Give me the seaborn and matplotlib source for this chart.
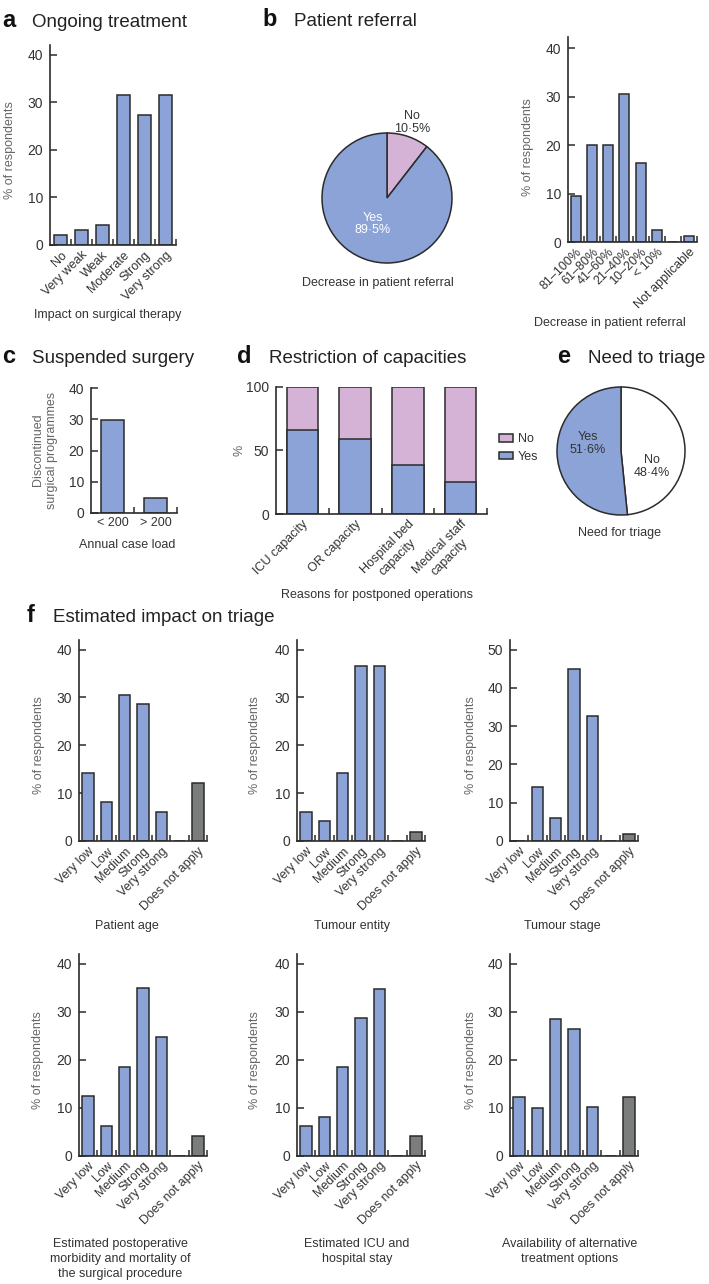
import numpy as np
import pandas as pd
import matplotlib
matplotlib.use("Agg")
import matplotlib.pyplot as plt
import seaborn as sns
from matplotlib.patches import Patch

sns.set_theme(style="ticks")
plt.rcParams['font.family'] = ['Liberation Sans', 'DejaVu Sans']
plt.rcParams['axes.edgecolor'] = '#2b2b2b'
plt.rcParams['axes.linewidth'] = 1.2

BLUE = '#8ba3d6'
PINK = '#d5b3d6'
GRAY = '#7b7d7d'
EDGE = '#2b2b2b'
TXT = '#333333'
LAB = '#666666'

# ---- data ----
a_cats = ["No", "Very weak", "Weak", "Moderate", "Strong", "Very strong"]
a_vals = [2.1, 3.2, 4.1, 31.6, 27.4, 31.6]

b_pie_labels = ["No", "Yes"]
b_pie_vals = [10.5, 89.5]
b_cats = ["81–100%", "61–80%", "41–60%", "21–40%", "10–20%", "< 10%", "", "Not applicable"]
b_vals = [9.5, 20.0, 20.0, 30.5, 16.4, 2.4, 0, 1.2]

c_cats = ["< 200", "> 200"]
c_vals = [29.7, 4.8]

d_cats = ["ICU capacity", "OR capacity", "Hospital bed\ncapacity", "Medical staff\ncapacity"]
d_yes = [65.8, 58.9, 38.7, 25.5]
d_total = [100, 100, 100, 100]

e_pie_labels = ["No", "Yes"]
e_pie_vals = [48.4, 51.6]

f_cats = ["Very low", "Low", "Medium", "Strong", "Very strong", "", "Does not apply"]
f_age = [14.2, 8.1, 30.6, 28.6, 6.1, 0, 12.2]
f_entity = [6.1, 4.1, 14.2, 36.6, 36.6, 0, 1.9]
f_stage = [0, 14.1, 5.9, 44.8, 32.6, 0, 1.8]
f_morb = [12.4, 6.1, 18.5, 34.9, 24.6, 0, 4.1]
f_icu = [6.1, 8.1, 18.5, 28.6, 34.7, 0, 4.0]
f_alt = [12.1, 10.0, 28.4, 26.4, 10.1, 0, 12.1]

W, H = 709, 1284
fig = plt.figure(figsize=(W / 100, H / 100), dpi=100)
FS = 9


def px_axes(left, top, right, bottom):
    return fig.add_axes([left / W, 1 - bottom / H, (right - left) / W, (bottom - top) / H])


def ftext(x, y, s, **kw):
    kw.setdefault('fontsize', FS)
    kw.setdefault('color', TXT)
    fig.text(x / W, 1 - y / H, s, **kw)


def title(xl, xt, y, letter, s):
    ftext(xl, y, letter, fontsize=17, fontweight='bold', color='#111111', va='baseline')
    ftext(xt, y, s, fontsize=13.5, color='#222222', va='baseline')


def style_axes(ax, n, ymax, yticks):
    ax.set_xlim(-0.5, n - 0.5)
    ax.set_ylim(0, ymax)
    ax.set_yticks(yticks)
    ax.set_xticks(np.arange(n) + 0.5, minor=True)
    ax.tick_params(axis='y', direction='in', length=5, width=1.1, pad=5, labelsize=10, colors=EDGE, labelcolor=TXT)
    ax.tick_params(axis='x', which='major', length=0, pad=3, labelsize=FS, labelcolor=TXT)
    ax.tick_params(axis='x', which='minor', direction='in', length=4, width=1.1, colors=EDGE)
    ax.set_xlabel("")
    ax.set_ylabel("")
    sns.despine(ax=ax)


def bar_panel(ax, cats, vals, ymax, yticks, width=0.62, gray_last=False, rot=45):
    df = pd.DataFrame({"cat": cats, "val": vals})
    sns.barplot(data=df, x="cat", y="val", order=cats, color=BLUE, saturation=1,
                edgecolor=EDGE, linewidth=1.1, width=width, ax=ax)
    if gray_last:
        ax.patches[-1].set_facecolor(GRAY)
    style_axes(ax, len(cats), ymax, yticks)
    ax.set_xticks(range(len(cats)))
    if rot:
        ax.set_xticklabels(cats, rotation=rot, ha='right', rotation_mode='anchor')
    else:
        ax.set_xticklabels(cats)


def pie_panel(cx, cy, r, vals, colors):
    ax = px_axes(cx - 1.1 * r, cy - 1.1 * r, cx + 1.1 * r, cy + 1.1 * r)
    ax.pie(vals, colors=colors, startangle=90, counterclock=False,
           wedgeprops=dict(edgecolor=EDGE, linewidth=1.1))
    ax.set_xlim(-1.1, 1.1)
    ax.set_ylim(-1.1, 1.1)
    ax.set_aspect('equal')
    return ax


# ---- a ----
title(2, 32, 27, "a", "Ongoing treatment")
ax = px_axes(50, 45, 176, 245)
bar_panel(ax, a_cats, a_vals, 42, [0, 10, 20, 30, 40])
ftext(10, 150, "% of respondents", rotation=90, ha='center', va='center', color=LAB)
ftext(108, 315, "Impact on surgical therapy", ha='center', va='center')

# ---- b ----
title(262, 294, 26, "b", "Patient referral")
axp = pie_panel(387, 198, 65, b_pie_vals, [PINK, BLUE])
axp.text(0.38, 1.16, "No\n10·5%", ha='center', va='center', fontsize=FS, color=TXT, linespacing=1.1)
axp.text(-0.22, -0.4, "Yes\n89·5%", ha='center', va='center', fontsize=FS, color='white', linespacing=1.1)
ftext(378, 283, "Decrease in patient referral", ha='center', va='center')

ax = px_axes(568, 37, 697, 242)
bar_panel(ax, b_cats, b_vals, 42.3, [0, 10, 20, 30, 40])
ftext(528, 147, "% of respondents", rotation=90, ha='center', va='center', color=LAB)
ftext(610, 323, "Decrease in patient referral", ha='center', va='center')

# ---- c ----
title(2, 32, 363, "c", "Suspended surgery")
ax = px_axes(91, 388, 177, 513)
bar_panel(ax, c_cats, c_vals, 40, [0, 10, 20, 30, 40], width=0.55, rot=0)
ftext(45, 450, "Discontinued\nsurgical programmes", rotation=90, ha='center', va='center',
      color=LAB, linespacing=1.15)
ftext(127, 545, "Annual case load", ha='center', va='center')

# ---- d ----
title(237, 269, 363, "d", "Restriction of capacities")
ax = px_axes(276, 387, 487, 514)
dfd = pd.DataFrame({"cat": d_cats, "total": d_total, "yes": d_yes})
sns.barplot(data=dfd, x="cat", y="total", order=d_cats, color=PINK, saturation=1,
            edgecolor=EDGE, linewidth=1.1, width=0.6, ax=ax)
sns.barplot(data=dfd, x="cat", y="yes", order=d_cats, color=BLUE, saturation=1,
            edgecolor=EDGE, linewidth=1.1, width=0.6, ax=ax)
style_axes(ax, len(d_cats), 100, [0, 50, 100])
ax.set_xticks(range(len(d_cats)))
ax.set_xticklabels(d_cats, rotation=45, ha='right', rotation_mode='anchor', multialignment='center')
ftext(240, 450, "%", rotation=90, ha='center', va='center', color=LAB)
ftext(377, 595, "Reasons for postponed operations", ha='center', va='center')
fig.legend(handles=[Patch(facecolor=PINK, edgecolor=EDGE, linewidth=1.1),
                    Patch(facecolor=BLUE, edgecolor=EDGE, linewidth=1.1)],
           labels=["No", "Yes"], loc='upper left', bbox_to_anchor=(488 / W, 1 - 422 / H),
           frameon=False, handlelength=1.1, handleheight=0.6, labelspacing=0.45,
           handletextpad=0.4, fontsize=FS, labelcolor=TXT)

# ---- e ----
title(557, 588, 363, "e", "Need to triage")
axp = pie_panel(621, 451, 64, e_pie_vals, ['white', BLUE])
axp.text(-0.52, 0.12, "Yes\n51·6%", ha='center', va='center', fontsize=FS, color=TXT, linespacing=1.1)
axp.text(0.48, -0.24, "No\n48·4%", ha='center', va='center', fontsize=FS, color=TXT, linespacing=1.1)
ftext(620, 533, "Need for triage", ha='center', va='center')

# ---- f ----
title(27, 53, 622, "f", "Estimated impact on triage")
f_panels = [
    (f_age, 79, 207, 640, 841, 42, [0, 10, 20, 30, 40], 39, "Patient age", 127),
    (f_entity, 297, 425, 640, 841, 42, [0, 10, 20, 30, 40], 255, "Tumour entity", 352),
    (f_stage, 510, 638, 640, 841, 52.5, [0, 10, 20, 30, 40, 50], 471, "Tumour stage", 562),
    (f_morb, 79, 207, 954, 1155.5, 42, [0, 10, 20, 30, 40], 38,
     "Estimated postoperative\nmorbidity and mortality of\nthe surgical procedure", 120),
    (f_icu, 297, 425, 954, 1155.5, 42, [0, 10, 20, 30, 40], 255, "Estimated ICU and\nhospital stay", 357),
    (f_alt, 510, 638, 954, 1155.5, 42, [0, 10, 20, 30, 40], 471,
     "Availability of alternative\ntreatment options", 570),
]
for vals, l, r, t, b, ymax, yt, ylx, xlab, xlx in f_panels:
    ax = px_axes(l, t, r, b)
    bar_panel(ax, f_cats, vals, ymax, yt, gray_last=True)
    ftext(ylx, (t + b) / 2 + 5, "% of respondents", rotation=90, ha='center', va='center', color=LAB)
    if b < 900:
        ftext(xlx, 926, xlab, ha='center', va='center')
    else:
        ftext(xlx, 1238, xlab, ha='center', va='top', linespacing=1.35)

fig.savefig("out.png", dpi=100)
